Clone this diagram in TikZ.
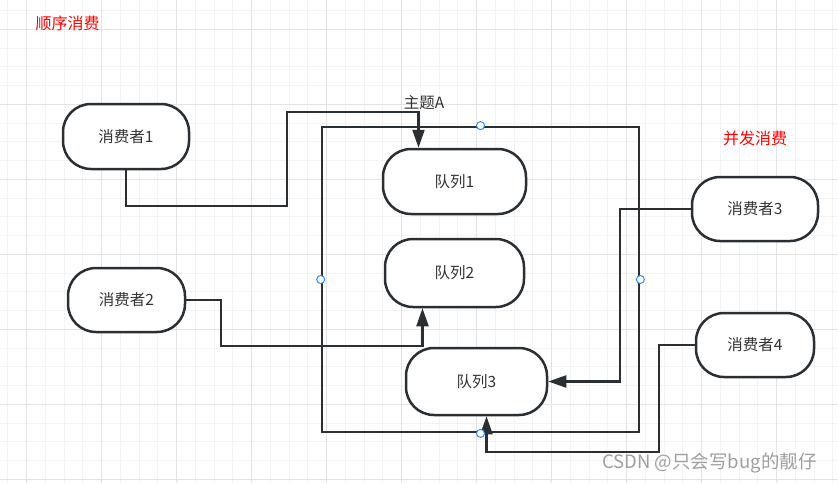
\documentclass[tikz,border=0pt]{standalone}
\usepackage{fontspec}
\setmainfont{Noto Sans CJK SC}
\usepackage{xcolor}
\usepackage{tikz}
\usetikzlibrary{arrows.meta, positioning, calc}
\definecolor{linecol}{HTML}{2A2F34}
\definecolor{textcol}{HTML}{333333}
\definecolor{handlecol}{HTML}{2F8CFF}
\definecolor{gridminor}{HTML}{F3F3F3}
\definecolor{gridmajor}{HTML}{E3E3E3}
\tikzstyle{arrow} = [line width=2.2pt, draw=linecol, -{Triangle[length=18pt, width=12pt]}]

\begin{document}
\begin{tikzpicture}[x=1pt, y=-1pt,
    capsule/.style={rectangle, rounded corners=28pt, draw=linecol, line width=2.5pt, fill=white, text=textcol, font=\fontsize{15.5}{18}\selectfont, inner sep=0pt},
    note/.style={text=red, font=\fontsize{16}{19}\selectfont, inner sep=0pt},
    handle/.style={circle, draw=handlecol, fill=white, line width=1pt, minimum size=8pt, inner sep=0pt}]

    \useasboundingbox (0,0) rectangle (838,483);

    % Grid
    \foreach \gx in {7.95,26.7,...,838} \draw[gridminor, line width=1pt] (\gx,0) -- (\gx,483);
    \foreach \gy in {10.55,29.3,...,483} \draw[gridminor, line width=1pt] (0,\gy) -- (838,\gy);
    \foreach \gx in {26.7,101.7,...,838} \draw[gridmajor, line width=1pt] (\gx,0) -- (\gx,483);
    \foreach \gy in {29.3,104.3,...,483} \draw[gridmajor, line width=1pt] (0,\gy) -- (838,\gy);

    % Labels
    \node[note] (seq) at (67.5,23) {顺序消费};
    \node[note] (conc) at (755,138) {并发消费};

    % Topic
    \node[rectangle, draw=linecol, line width=2.7pt, minimum width=317pt, minimum height=305pt, inner sep=0pt] (topic) at (480.5,279.5) {};
    \node[text=textcol, font=\fontsize{15.5}{18}\selectfont, inner sep=0pt] (topicname) at (424,103) {主题A};

    % Queues
    \node[capsule, minimum width=143pt, minimum height=65pt] (q1) at (454.5,181.5) {队列1};
    \node[capsule, minimum width=139pt, minimum height=68pt] (q2) at (454.5,273) {队列2};
    \node[capsule, minimum width=141pt, minimum height=67pt] (q3) at (476.5,381.5) {队列3};

    % Consumers
    \node[capsule, minimum width=126pt, minimum height=65pt] (c1) at (126,136.5) {消费者1};
    \node[capsule, minimum width=117pt, minimum height=64pt] (c2) at (126.5,300) {消费者2};
    \node[capsule, minimum width=126pt, minimum height=64pt] (c3) at (755,209) {消费者3};
    \node[capsule, minimum width=118pt, minimum height=64pt] (c4) at (755,345) {消费者4};

    % Arrows
    \draw[arrow] (c1.south) -- ++(0,36) -| (287,112) -| ([xshift=-36pt]q1.north);
    \draw[arrow] (c2.east) -| (221,346) -| ([xshift=-32pt]q2.south);
    \draw[arrow] (c3.west) -| ([xshift=72pt]q3.east) -- (q3.east);
    \draw[arrow] (c4.west) -| (659,452) -| ([xshift=10pt]q3.south);

    % Handles
    \foreach \side in {north,south,east,west} \node[handle] at (topic.\side) {};

    % Watermark
    \node[text=black!38, font=\fontsize{18.5}{21}\selectfont, inner sep=0pt] (mark) at (709.5,463) {CSDN @只会写bug的靓仔};
\end{tikzpicture}
\end{document}
